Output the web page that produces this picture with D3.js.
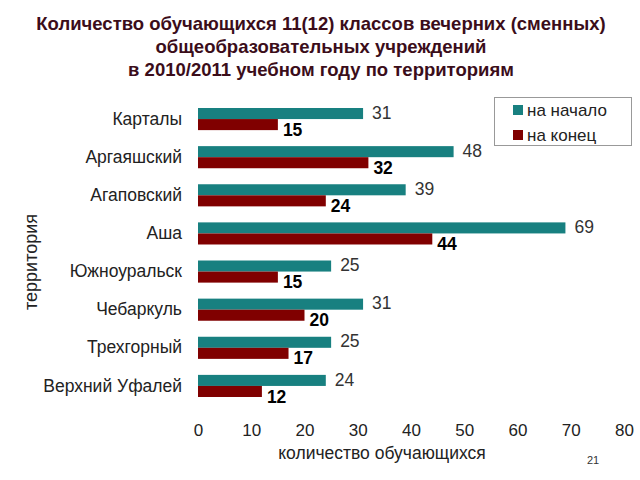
<!DOCTYPE html>
<html>
<head>
<meta charset="utf-8">
<script src="https://cdn.jsdelivr.net/npm/d3@7"></script>
<style>
  html, body { margin: 0; padding: 0; background: #fff; }
  svg { display: block; }
</style>
</head>
<body>
<svg id="chart" width="640" height="480"></svg>
<script>
const categories = ["Карталы", "Аргаяшский", "Агаповский", "Аша", "Южноуральск", "Чебаркуль", "Трехгорный", "Верхний Уфалей"];
const seriesNames = ["на начало", "на конец"];
const startValues = [31, 48, 39, 69, 25, 31, 25, 24];
const endValues = [15, 32, 24, 44, 15, 20, 17, 12];
const xTicks = [0, 10, 20, 30, 40, 50, 60, 70, 80];
const titleLines = ["Количество обучающихся 11(12) классов вечерних (сменных)", "общеобразовательных учреждений", "в 2010/2011 учебном году по территориям"];

const colors = ["#188080", "#800000"];
const font = "Arial, 'Liberation Sans', sans-serif";

const svg = d3.select("#chart");

// Title
svg.append("g").selectAll("text").data(titleLines).join("text")
  .attr("x", 321).attr("y", (d, i) => 30 + i * 23)
  .attr("text-anchor", "middle")
  .attr("font-family", font).attr("font-weight", "bold").attr("font-size", 18.5)
  .attr("fill", "#3b0d1a")
  .text(d => d);

const x = d3.scaleLinear().domain([0, 80]).range([198, 624]);
const y = d3.scaleBand().domain(categories).range([100, 405]).paddingInner(0.42).paddingOuter(0.21);
const ys = d3.scaleBand().domain(seriesNames).range([0, y.bandwidth()]);

const rows = categories.map((c, i) => ({ c, vals: [startValues[i], endValues[i]] }));

const g = svg.append("g");
const rowG = g.selectAll("g.row").data(rows).join("g").attr("class", "row")
  .attr("transform", d => `translate(0,${y(d.c)})`);

rowG.selectAll("rect").data(d => d.vals.map((v, k) => ({ v, k }))).join("rect")
  .attr("x", x(0))
  .attr("y", d => ys(seriesNames[d.k]))
  .attr("width", d => x(d.v) - x(0))
  .attr("height", ys.bandwidth())
  .attr("fill", d => colors[d.k]);

// Value labels
rowG.selectAll("text.val").data(d => d.vals.map((v, k) => ({ v, k }))).join("text")
  .attr("class", "val")
  .attr("x", d => x(d.v) + (d.k === 0 ? 9 : 5))
  .attr("y", d => ys(seriesNames[d.k]) + ys.bandwidth() / 2 + (d.k === 0 ? -1 : 5))
  .attr("dy", "0.35em")
  .attr("font-family", font)
  .attr("font-size", 17.5)
  .attr("font-weight", d => d.k === 1 ? "bold" : "normal")
  .attr("fill", d => d.k === 1 ? "#000" : "#333")
  .text(d => d.v);

// Y axis (labels only)
const yAxis = d3.axisLeft(y).tickSize(0).tickPadding(16);
const yg = svg.append("g").attr("transform", `translate(${x(0)},0)`).call(yAxis);
yg.select(".domain").remove();
yg.attr("font-family", font).attr("font-size", 17.5);
yg.selectAll("text").attr("fill", "#222");

// X axis (labels only)
const xAxis = d3.axisBottom(x).tickValues(xTicks).tickSize(0).tickPadding(0);
const xg = svg.append("g").attr("transform", `translate(0,424)`).call(xAxis);
xg.select(".domain").remove();
xg.attr("font-family", font).attr("font-size", 17);
xg.selectAll("text").attr("fill", "#222");

// Axis titles
svg.append("text")
  .attr("x", 382).attr("y", 459)
  .attr("text-anchor", "middle")
  .attr("font-family", font).attr("font-size", 17.5).attr("fill", "#222")
  .text("количество обучающихся");

svg.append("text")
  .attr("transform", "translate(37,262) rotate(-90)")
  .attr("text-anchor", "middle")
  .attr("font-family", font).attr("font-size", 18).attr("fill", "#222")
  .text("территория");

// Legend
const lg = svg.append("g");
lg.append("rect").attr("x", 494.5).attr("y", 97.5).attr("width", 137).attr("height", 48)
  .attr("fill", "#fff").attr("stroke", "#999").attr("stroke-width", 1);
const li = lg.selectAll("g.item").data(seriesNames).join("g").attr("class", "item")
  .attr("transform", (d, i) => `translate(513,${110 + i * 25})`);
li.append("rect").attr("x", 0).attr("y", -5).attr("width", 10).attr("height", 10)
  .attr("fill", (d, i) => colors[i]);
li.append("text").attr("x", 14).attr("y", 0).attr("dy", "0.35em")
  .attr("font-family", font).attr("font-size", 17).attr("fill", "#222")
  .text(d => d);

// Page number
svg.append("text").attr("x", 593).attr("y", 464).attr("text-anchor", "middle")
  .attr("font-family", font).attr("font-size", 11).attr("fill", "#333").text("21");
</script>
</body>
</html>
